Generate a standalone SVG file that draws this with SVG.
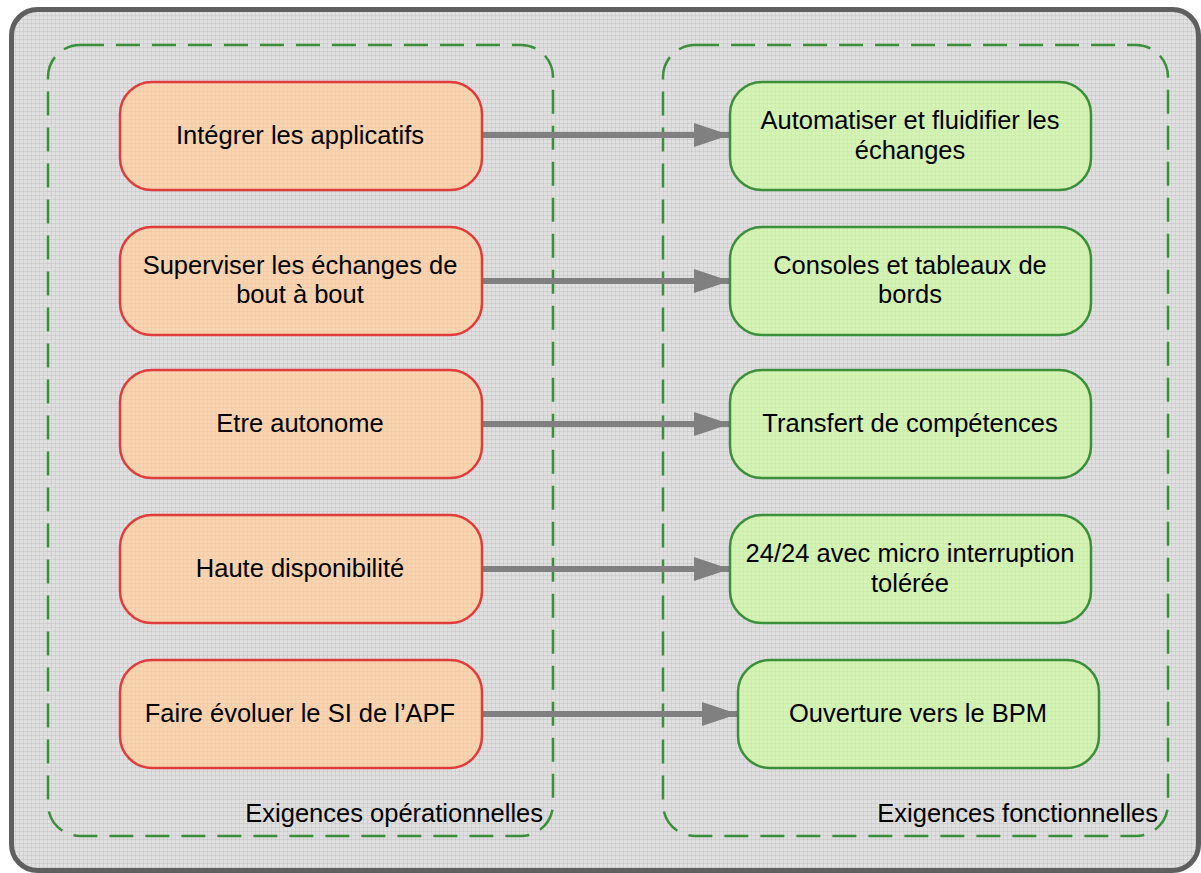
<svg xmlns="http://www.w3.org/2000/svg" width="1201" height="873" viewBox="0 0 1201 873">
<style>
.lbl{font-family:"Liberation Sans",Arial,sans-serif;font-size:25.5px;fill:#000;text-anchor:middle}
.cap{font-family:"Liberation Sans",Arial,sans-serif;font-size:25.5px;fill:#000;text-anchor:end}
.grp{fill:none;stroke:#3a8f3a;stroke-width:2.5;stroke-dasharray:24 12}
.op{stroke:#e03c3c;stroke-width:2.5}
.fn{stroke:#3a8f3a;stroke-width:2.5}
.conn{stroke:#808080;stroke-width:6;fill:none}
</style>
<defs>
<pattern id="grid" width="4" height="4" patternUnits="userSpaceOnUse">
<path d="M4 0V4M0 4H4" stroke="#bdbdbd" stroke-width="0.8" fill="none"/>
</pattern>
<pattern id="gridO" width="4" height="4" patternUnits="userSpaceOnUse">
<rect width="4" height="4" fill="#f9d4b1"/>
<path d="M4 0V4M0 4H4" stroke="#f3c196" stroke-width="0.8" fill="none"/>
</pattern>
<pattern id="gridG" width="4" height="4" patternUnits="userSpaceOnUse">
<rect width="4" height="4" fill="#d6f3b6"/>
<path d="M4 0V4M0 4H4" stroke="#c2e69c" stroke-width="0.8" fill="none"/>
</pattern>
<marker id="ah" markerWidth="6" markerHeight="4" refX="6" refY="2" orient="auto" markerUnits="strokeWidth">
<path d="M0 0L6 2L0 4Z" fill="#808080"/>
</marker>
</defs>
<rect width="1201" height="873" fill="#ffffff"/>
<g id="frame">
<rect x="11.5" y="9.5" width="1187" height="861" rx="26" fill="#e0e0e0"/>
<rect x="11.5" y="9.5" width="1187" height="861" rx="26" fill="url(#grid)" stroke="#5f5f5f" stroke-width="5"/>
</g>
<g id="group-operationnelles">
<rect class="grp" x="48" y="45" width="505" height="791" rx="32"/>
<text class="cap" x="543" y="822">Exigences opérationnelles</text>
</g>
<g id="group-fonctionnelles">
<rect class="grp" x="663" y="45" width="505" height="791" rx="32"/>
<text class="cap" x="1158" y="822">Exigences fonctionnelles</text>
</g>
<g id="connectors">
<line class="conn" x1="482" y1="135" x2="730" y2="135" marker-end="url(#ah)"/>
<line class="conn" x1="482" y1="281" x2="730" y2="281" marker-end="url(#ah)"/>
<line class="conn" x1="482" y1="424" x2="730" y2="424" marker-end="url(#ah)"/>
<line class="conn" x1="482" y1="569" x2="730" y2="569" marker-end="url(#ah)"/>
<line class="conn" x1="482" y1="714" x2="738" y2="714" marker-end="url(#ah)"/>
</g>
<g id="op1"><rect class="op" x="120" y="82" width="362" height="108" rx="32" fill="url(#gridO)"/><text class="lbl" x="300" y="144">Intégrer les applicatifs</text></g>
<g id="op2"><rect class="op" x="120" y="227" width="362" height="108" rx="32" fill="url(#gridO)"/><text class="lbl" x="300" y="274">Superviser les échanges de</text><text class="lbl" x="300" y="303">bout à bout</text></g>
<g id="op3"><rect class="op" x="120" y="370" width="362" height="108" rx="32" fill="url(#gridO)"/><text class="lbl" x="300" y="432">Etre autonome</text></g>
<g id="op4"><rect class="op" x="120" y="515" width="362" height="108" rx="32" fill="url(#gridO)"/><text class="lbl" x="300" y="577">Haute disponibilité</text></g>
<g id="op5"><rect class="op" x="120" y="660" width="362" height="108" rx="32" fill="url(#gridO)"/><text class="lbl" x="300" y="722">Faire évoluer le SI de l’APF</text></g>
<g id="fn1"><rect class="fn" x="730" y="82" width="361" height="108" rx="32" fill="url(#gridG)"/><text class="lbl" x="910" y="129">Automatiser et fluidifier les</text><text class="lbl" x="910" y="159">échanges</text></g>
<g id="fn2"><rect class="fn" x="730" y="227" width="361" height="108" rx="32" fill="url(#gridG)"/><text class="lbl" x="910" y="274">Consoles et tableaux de</text><text class="lbl" x="910" y="303">bords</text></g>
<g id="fn3"><rect class="fn" x="730" y="370" width="361" height="108" rx="32" fill="url(#gridG)"/><text class="lbl" x="910" y="432">Transfert de compétences</text></g>
<g id="fn4"><rect class="fn" x="730" y="515" width="361" height="108" rx="32" fill="url(#gridG)"/><text class="lbl" x="910" y="562">24/24 avec micro interruption</text><text class="lbl" x="910" y="592">tolérée</text></g>
<g id="fn5"><rect class="fn" x="738" y="660" width="361" height="108" rx="32" fill="url(#gridG)"/><text class="lbl" x="918" y="722">Ouverture vers le BPM</text></g>
</svg>
